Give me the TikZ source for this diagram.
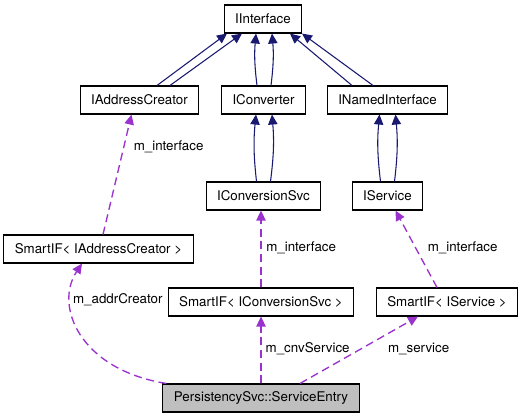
\documentclass[tikz,border=0pt]{standalone}
\usepackage{fontspec}
\setmainfont{TeX Gyre Heros}
\usetikzlibrary{arrows.meta,calc}
\definecolor{edgeblue}{HTML}{191970}
\definecolor{edgepurple}{HTML}{9A32CD}
\definecolor{entrygray}{HTML}{BFBFBF}

\begin{document}
\begin{tikzpicture}[x=0.75pt,y=-0.75pt,
  cls/.style={rectangle,draw,line width=0.8pt,minimum height=21pt,inner xsep=8.3pt,inner ysep=0pt,font=\fontsize{10}{12}\selectfont},
  inh/.style={edgeblue,line width=0.8pt,-{Triangle[length=7.5pt,width=7pt]}},
  member/.style={edgepurple,line width=1pt,dash pattern=on 6pt off 3.5pt,-{Triangle[length=7.5pt,width=7pt]}},
  lbl/.style={font=\fontsize{10}{12}\selectfont,text=black,inner sep=0pt}]
\useasboundingbox (0,0) rectangle (528,419);
\node (iface)     at (263,19)    [cls] {IInterface};
\node (addr)      at (139.5,100) [cls] {IAddressCreator};
\node (conv)      at (263.5,100) [cls] {IConverter};
\node (named)     at (387.5,100) [cls] {INamedInterface};
\node (cnvsvc)    at (263.5,196) [cls] {IConversionSvc};
\node (svc)       at (387.5,196) [cls] {IService};
\node (smartaddr) at (98.5,249)  [cls] {SmartIF< IAddressCreator >};
\node (smartcnv)  at (261,302)   [cls] {SmartIF< IConversionSvc >};
\node (smartsvc)  at (447,302)   [cls] {SmartIF< IService >};
\node (entry)     at (261,398)   [cls,fill=entrygray] {PersistencySvc::ServiceEntry};
\draw [inh] ($(addr.north)+(17.5,0)$)   to ($(iface.south)+(-36,0)$);
\draw [inh] ($(addr.north)+(30.5,0)$)   to ($(iface.south)+(-21,0)$);
\draw [inh] ($(conv.north)+(-6.5,0)$)   to [bend left=6]  ($(iface.south)+(-7,0)$);
\draw [inh] ($(conv.north)+(7.5,0)$)    to [bend right=6] ($(iface.south)+(9,0)$);
\draw [inh] ($(named.north)+(-35.5,0)$) to ($(iface.south)+(27,0)$);
\draw [inh] ($(named.north)+(-14.5,0)$) to ($(iface.south)+(39,0)$);
\draw [inh] ($(cnvsvc.north)+(-7,0)$)   to [bend left=6]  ($(conv.south)+(-7.5,0)$);
\draw [inh] ($(cnvsvc.north)+(7,0)$)    to [bend right=6] ($(conv.south)+(8.5,0)$);
\draw [inh] ($(svc.north)+(-7,0)$)      to [bend left=6]  ($(named.south)+(-8,0)$);
\draw [inh] ($(svc.north)+(7,0)$)       to [bend right=6] ($(named.south)+(8,0)$);
\draw [member] ($(smartaddr.north)+(4.5,0)$) to node [lbl,pos=0.73,right=7pt] {m\_interface} ($(addr.south)+(-8,0)$);
\draw [member] (smartcnv.north) to node [lbl,pos=0.51,right=3.5pt] {m\_interface} (smartcnv.north |- cnvsvc.south);
\draw [member] ($(smartsvc.north)+(-10,0)$) to node [lbl,pos=0.51,right=8.5pt] {m\_interface} ($(svc.south)+(8,0)$);
\draw [member] ($(entry.north west)+(4,0)$) .. controls +(-87,-14) and +(-28,42) .. ($(smartaddr.south)+(-16.5,0)$) node [lbl,pos=0.74,right=1pt] {m\_addrCreator};
\draw [member] (entry.north) to node [lbl,pos=0.515,right=3pt] {m\_cnvService} (smartcnv.south);
\draw [member] ($(entry.north)+(39,0)$) to node [lbl,pos=0.515,right=20pt] {m\_service} ($(smartsvc.south)+(-29,0)$);
\end{tikzpicture}
\end{document}
